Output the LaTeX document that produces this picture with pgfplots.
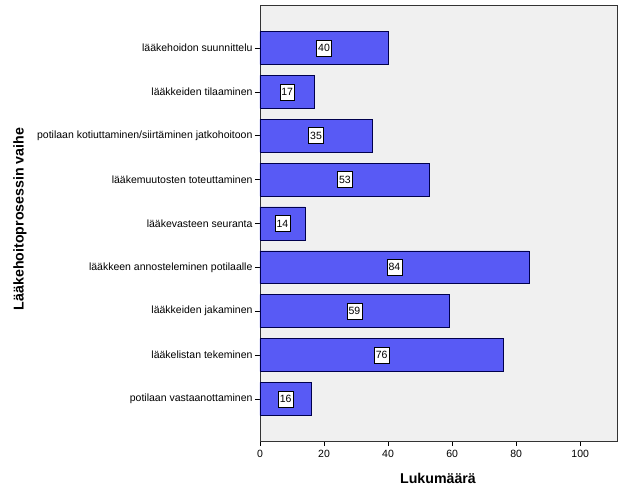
\documentclass[border=0pt]{standalone}
\usepackage{pgfplots}
\pgfplotsset{compat=1.18}
\usepackage{pgfplotstable}
\usepackage{fontspec}
\setmainfont{Liberation Sans}
\definecolor{barblue}{RGB}{88,90,245}
\definecolor{bgc}{RGB}{240,240,240}
\pgfplotstableread{
i v
0 16
1 76
2 59
3 84
4 14
5 53
6 35
7 17
8 40
}\datatable
\begin{document}
\begin{tikzpicture}[x=1pt,y=1pt]
\path[use as bounding box, fill=white] (0,0) rectangle (624,490);
\begin{axis}[
  at={(260pt,49pt)}, anchor=south west,
  scale only axis, width=357pt, height=436pt,
  xmin=0, xmax=111.5, ymin=-0.96, ymax=8.98,
  xtick={0,20,40,60,80,100},
  ytick={0,1,2,3,4,5,6,7,8},
  yticklabels={potilaan vastaanottaminen, lääkelistan tekeminen, lääkkeiden jakaminen, lääkkeen annosteleminen potilaalle, lääkevasteen seuranta, lääkemuutosten toteuttaminen, potilaan kotiuttaminen/siirtäminen jatkohoitoon, lääkkeiden tilaaminen, lääkehoidon suunnittelu},
  axis background/.style={fill=bgc},
  tick align=outside, major tick length=5pt,
  xtick pos=lower, ytick pos=lower,
  tick style={black, line width=0.6pt},
  ticklabel style={font=\fontsize{10.5}{12}\selectfont},
  yticklabel style={xshift=1pt},
  xticklabel style={yshift=-1pt},
  /pgf/number format/assume math mode=true,
  axis line style={black!80, line width=0.7pt},
]
\addplot[xbar, bar width=0.75, fill=barblue, draw=black!70!blue, line width=0.6pt] table[x=v, y=i] {\datatable};
\addplot[draw=none, mark=none, nodes near coords, point meta=explicit symbolic,
  nodes near coords style={anchor=center, fill=white, draw=black, line width=0.5pt, inner sep=1.6pt, minimum height=16pt, font=\fontsize{10.5}{12}\selectfont}]
  table[x expr=\thisrow{v}/2, y=i, meta=v] {\datatable};
\end{axis}
\node[font=\fontsize{14.2}{16}\selectfont\bfseries] at (438,12) {Lukumäärä};
\node[font=\fontsize{14.2}{16}\selectfont\bfseries, rotate=90] at (20,271) {Lääkehoitoprosessin vaihe};
\end{tikzpicture}
\end{document}
